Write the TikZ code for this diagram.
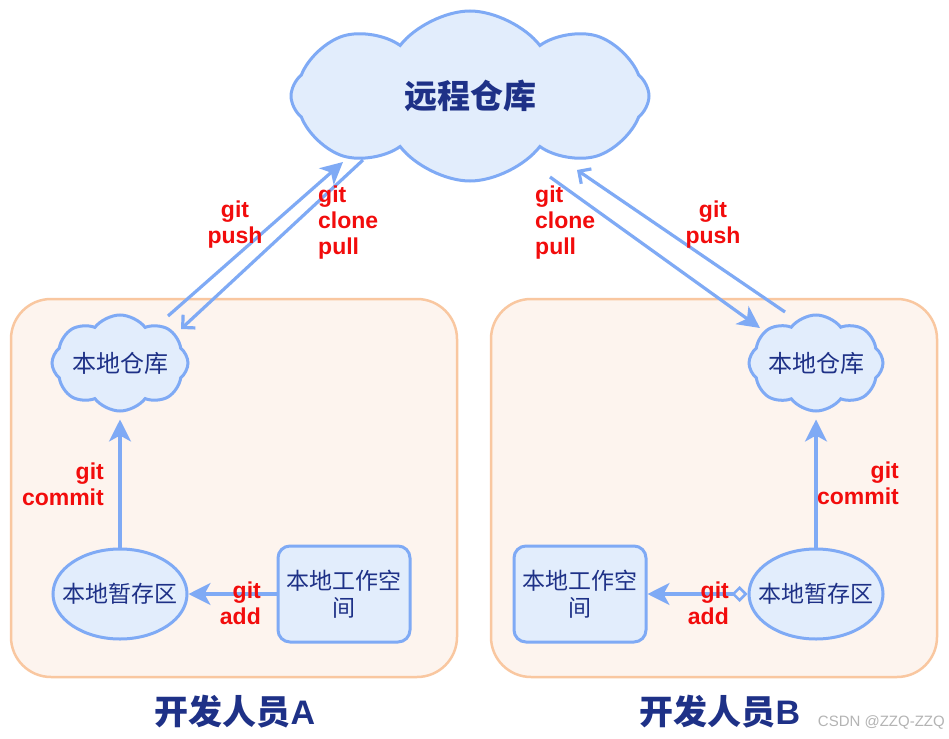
\documentclass[tikz,border=0pt]{standalone}
\usepackage{fontspec}
\setmainfont{Liberation Sans}
\newfontfamily\cjk{Noto Sans CJK SC}
\usetikzlibrary{shapes.symbols,shapes.geometric,arrows.meta}
\definecolor{lineblue}{HTML}{7FAAF5}
\definecolor{fillblue}{HTML}{E2EDFC}
\definecolor{textblue}{HTML}{1E3187}
\definecolor{boxline}{HTML}{F9C7A0}
\definecolor{boxfill}{HTML}{FDF4EE}
\definecolor{labelred}{HTML}{F20C0C}
\definecolor{wmgray}{HTML}{B4B4B4}
\begin{document}
\begin{tikzpicture}[x=1pt,y=-1pt,
  cloudnode/.style={cloud, cloud puffs=8, cloud puff arc=105, cloud ignores aspect, draw=lineblue, line width=3pt, fill=fillblue, inner sep=0pt, text=textblue},
  devbox/.style={draw=boxline, line width=2.5pt, fill=boxfill, rounded corners=40pt, minimum width=446pt, minimum height=378pt},
  stagenode/.style={ellipse, draw=lineblue, line width=3pt, fill=fillblue, minimum width=134pt, minimum height=90pt, inner sep=0pt, text=textblue, font=\cjk\fontsize{23}{26}\selectfont},
  worknode/.style={draw=lineblue, line width=3pt, fill=fillblue, rounded corners=12pt, minimum width=132pt, minimum height=96pt, inner sep=0pt, text=textblue, align=center, font=\cjk\fontsize{23}{27}\selectfont},
  flow/.style={draw=lineblue, line width=3.2pt, -{Stealth[length=22pt,width=22pt,inset=6pt]}},
  flowopen/.style={draw=lineblue, line width=3.2pt, -{Straight Barb[length=9pt,width=18pt]}},
  lbl/.style={text=labelred, font=\bfseries\fontsize{23}{26}\selectfont, inner sep=0pt},
  title/.style={text=textblue, font=\cjk\bfseries\fontsize{34}{38}\selectfont, inner sep=0pt}
]
\useasboundingbox (0,0) rectangle (949,738);
\fill[white] (0,0) rectangle (949,738);

% developer boxes
\node[devbox] (boxA) at (234,488) {};
\node[devbox] (boxB) at (714,488) {};

% remote repo
\node[cloudnode, minimum width=358pt, minimum height=170pt, font=\cjk\bfseries\fontsize{33}{36}\selectfont] (remote) at (470,96) {远程仓库};

% developer A
\node[cloudnode, minimum width=136pt, minimum height=96pt, font=\cjk\fontsize{24}{26}\selectfont] (locA) at (120,363) {\makebox[0pt]{本地仓库}};
\node[stagenode] (stageA) at (120,594) {\makebox[0pt]{本地暂存区}};
\node[worknode] (workA) at (344,594) {本地工作空\\间};

% developer B
\node[cloudnode, minimum width=134pt, minimum height=96pt, font=\cjk\fontsize{24}{26}\selectfont] (locB) at (816,363) {\makebox[0pt]{本地仓库}};
\node[stagenode] (stageB) at (816,594) {\makebox[0pt]{本地暂存区}};
\node[worknode] (workB) at (580,594) {本地工作空\\间};

% diagonal connector ends
\coordinate (pushAs) at (168,316);
\coordinate (pushAe) at (343,162);
\coordinate (cloneAs) at (363,160);
\coordinate (cloneAe) at (181,329);
\coordinate (cloneBs) at (550,177);
\coordinate (cloneBe) at (760,328);
\coordinate (pushBs) at (785,312);
\coordinate (pushBe) at (577,170);

\draw[flow] (pushAs) -- (pushAe);
\draw[flowopen] (cloneAs) -- (cloneAe);
\draw[flow] (cloneBs) -- (cloneBe);
\draw[flowopen] (pushBs) -- (pushBe);

\draw[flow, shorten >=7pt] (stageA) -- (locA);
\draw[flow, shorten >=7pt] (stageB) -- (locB);
\draw[flow] (workA) -- (stageA);
\draw[draw=lineblue, line width=3.2pt, {Diamond[open,length=16pt,width=16pt,line width=2.5pt]}-{Stealth[length=22pt,width=22pt,inset=6pt]}] (stageB) -- (workB);

% labels
\node[lbl, align=center] (lpushA) at (235,225) {git\\push};
\node[lbl, align=left, anchor=west] (lcloneA) at (318,223) {git\\clone\\pull};
\node[lbl, align=left, anchor=west] (lcloneB) at (535,223) {git\\clone\\pull};
\node[lbl, align=center] (lpushB) at (713,225) {git\\push};
\node[lbl, align=right, anchor=east] (lcommitA) at (104,484) {git\\commit};
\node[lbl, align=right, anchor=east] (lcommitB) at (899,483) {git\\commit};
\node[lbl, align=right, anchor=east] (laddA) at (261,603) {git\\add};
\node[lbl, align=right, anchor=east] (laddB) at (729,603) {git\\add};

% titles
\node[title] (titleA) at (235,712) {开发人员\fontspec{Liberation Sans}\bfseries A};
\node[title] (titleB) at (720,712) {开发人员\fontspec{Liberation Sans}\bfseries B};
\node[text=wmgray, font=\fontsize{15}{17}\selectfont, inner sep=0pt, anchor=east] (wm) at (945,722) {CSDN @ZZQ-ZZQ};
\end{tikzpicture}
\end{document}
